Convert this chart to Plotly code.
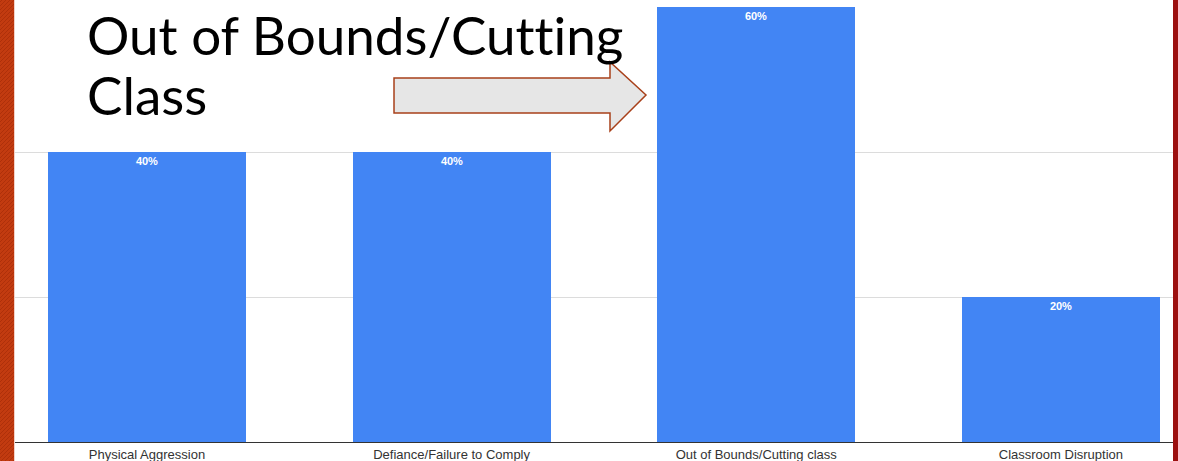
import plotly.graph_objects as go

categories = ["Physical Aggression", "Defiance/Failure to Comply",
              "Out of Bounds/Cutting class", "Classroom Disruption"]
percentages = [40, 40, 60, 20]
y_ticks = [0, 20, 40, 60]

W, H = 1178, 461


def px(x):
    return x / W


def py(y):
    return 1 - y / H


fig = go.Figure()
fig.add_trace(go.Bar(
    x=list(range(len(categories))),
    y=percentages,
    width=0.65,
    marker=dict(color="#4285f4", line=dict(width=0)),
    text=[f"{v}%" for v in percentages],
    textposition="inside",
    insidetextanchor="end",
    textfont=dict(family="Liberation Sans, Arial", size=11, color="white", weight="bold"),
    cliponaxis=False,
    hoverinfo="skip",
))

# slide frame: textured red band at left, thin dark red edge at right
shapes = [
    dict(type="rect", xref="paper", yref="paper", x0=0, x1=px(14), y0=0, y1=1,
         fillcolor="#c23b10", line=dict(width=0), layer="above"),
    dict(type="rect", xref="paper", yref="paper", x0=px(14), x1=px(15), y0=0, y1=1,
         fillcolor="#f3d2c8", line=dict(width=0), layer="above"),
    dict(type="rect", xref="paper", yref="paper", x0=px(1173), x1=1, y0=0, y1=1,
         fillcolor="#9c1010", line=dict(width=0), layer="above"),
]
# diagonal stripes on the left band
for k in range(-4, 120):
    y0 = k * 4
    shapes.append(dict(type="line", xref="paper", yref="paper",
                       x0=0, x1=px(14), y0=py(y0 + 14), y1=py(y0),
                       line=dict(color="rgba(150,35,5,0.45)", width=1), layer="above"))

# callout arrow pointing at the tallest bar
arrow_pts = [(394, 78), (610, 78), (610, 62), (646, 95), (610, 131), (610, 113), (394, 113)]
path = "M " + " L ".join(f"{px(x):.5f},{py(y):.5f}" for x, y in arrow_pts) + " Z"
shapes.append(dict(type="path", xref="paper", yref="paper", path=path,
                   fillcolor="#e6e6e6", line=dict(color="#a8401a", width=1.5), layer="above"))

title_font = dict(family="Lato", size=53, color="black")
title_lines = ["Out of Bounds/Cutting", "Class"]
title_tops = [1, 61]

fig.update_layout(
    width=W, height=H,
    margin=dict(l=0, r=0, t=0, b=0),
    paper_bgcolor="white",
    plot_bgcolor="white",
    showlegend=False,
    bargap=0,
    shapes=shapes,
    annotations=[dict(
        xref="paper", yref="paper", x=px(85), y=py(top), xanchor="left", yanchor="top",
        text=f'<span style="font-variant-ligatures:none">{line}</span>',
        showarrow=False, align="left", font=title_font,
    ) for line, top in zip(title_lines, title_tops)],
    xaxis=dict(
        domain=[px(14), px(1173)],
        range=[-0.4365, 3.368],
        tickmode="array",
        tickvals=list(range(len(categories))),
        ticktext=categories,
        tickfont=dict(family="Liberation Sans, Arial", size=13, color="#333333"),
        showline=True, linecolor="#333333", linewidth=1,
        showgrid=False, ticks="", automargin=False, fixedrange=True,
    ),
    yaxis=dict(
        domain=[1 - 442 / H, 1 - 7 / H],
        range=[0, 60],
        tickvals=y_ticks,
        showticklabels=False,
        showgrid=True, gridcolor="#dcdcdc", gridwidth=1,
        zeroline=False, automargin=False, fixedrange=True,
    ),
)

fig.write_html("out.html")
